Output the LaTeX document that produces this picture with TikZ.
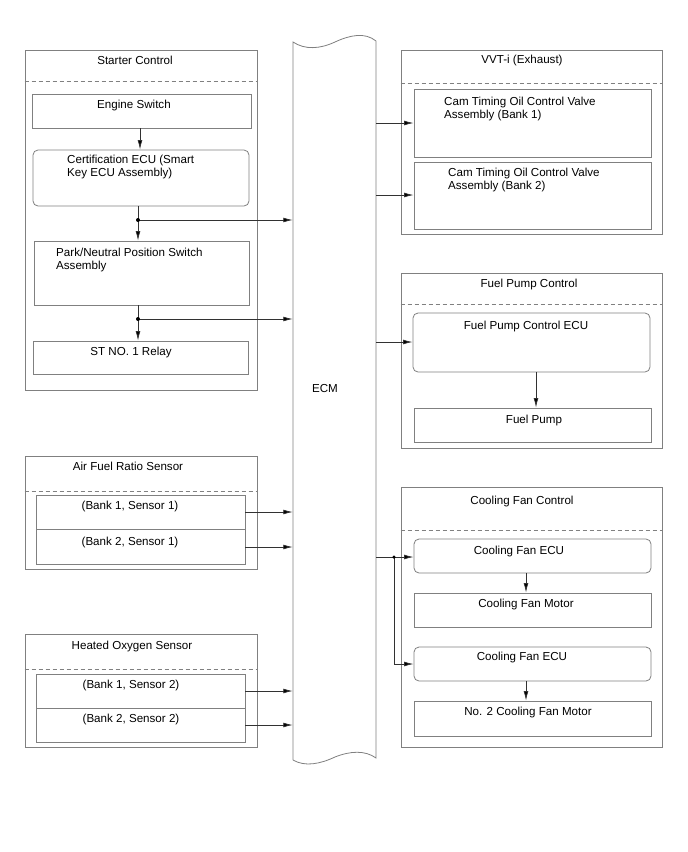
\documentclass[tikz,border=0pt]{standalone}
\usepackage{fontspec}
\setmainfont{Liberation Sans}
\usetikzlibrary{fit,arrows.meta}
\definecolor{linegray}{RGB}{128,128,128}
\definecolor{conngray}{RGB}{50,50,50}
\tikzset{
  boxshape/.style={draw=linegray, line width=0.8pt, inner sep=0pt, rectangle},
  rboxshape/.style={boxshape, rounded corners=5pt},
  dashsep/.style={draw=linegray, line width=0.8pt, dash pattern=on 4pt off 3pt},
  conn/.style={draw=conngray, line width=0.75pt, -{Latex[length=9.5pt,width=4.8pt,fill=black]}},
  lbl/.style={inner sep=0pt, anchor=base, font=\fontsize{11.6}{13.5}\selectfont},
  lbll/.style={inner sep=0pt, anchor=base west, font=\fontsize{11.6}{13.5}\selectfont},
  jdot/.style={circle, fill=black, inner sep=0pt, minimum size=4pt}
}
\begin{document}
\begin{tikzpicture}[x=1pt,y=-1pt]
\fill[white] (0,0) rectangle (688,852);
\useasboundingbox (0,0) rectangle (688,852);

% ECM
\draw[linegray, line width=0.8pt] (293,760) -- (293,42)
  .. controls (305,50) and (320,49) .. (335,42)
  .. controls (350,35) and (365,32) .. (376,41)
  -- (376,758)
  .. controls (365,750) and (350,751) .. (335,757)
  .. controls (320,764) and (305,767) .. (293,760);
\node[inner sep=0pt, minimum width=83pt, minimum height=700pt] (ecm) at (334.5,400) {};
\node[lbl] (ecmt) at (325,392) {ECM};

% Starter Control
\node[boxshape, fit={(25,50) (257,390)}] (sc) {};
\draw[dashsep] (sc.west |- 0,81) -- (sc.east |- 0,81);
\node[lbl] (sct) at (135,64) {Starter Control};
\node[boxshape, fit={(32,94) (251,128)}] (es) {};
\node[lbl] (est) at (134,108) {Engine Switch};
\node[rboxshape, fit={(33,150) (249,206)}] (cert) {};
\node[lbll] (certa) at (67,163) {Certification ECU (Smart};
\node[lbll] (certb) at (67,176.5) {Key ECU Assembly)};
\node[boxshape, fit={(34,241) (249,305)}] (pn) {};
\node[lbll] (pna) at (56,256) {Park/Neutral Position Switch};
\node[lbll] (pnb) at (56,269.5) {Assembly};
\node[boxshape, fit={(33,341) (248,374)}] (st) {};
\node[lbl] (stt) at (131,355) {ST NO. 1 Relay};

\coordinate (c1) at (140,0);
\draw[conn] (es.south -| c1) -- (cert.north -| c1);
\coordinate (d1) at (138,220);
\draw[conn] (cert.south -| d1) -- (pn.north -| d1);
\draw[conn] (d1) -- (d1 -| ecm.west);
\node[jdot] (j1) at (d1) {};
\coordinate (d2) at (138,319);
\draw[conn] (pn.south -| d2) -- (st.north -| d2);
\draw[conn] (d2) -- (d2 -| ecm.west);
\node[jdot] (j2) at (d2) {};

% Air Fuel Ratio Sensor
\node[boxshape, fit={(25,456) (257,569)}] (afr) {};
\draw[dashsep] (afr.west |- 0,491) -- (afr.east |- 0,491);
\node[lbl] (afrt) at (128,470) {Air Fuel Ratio Sensor};
\node[boxshape, fit={(36,495) (245,529)}] (afra) {};
\node[boxshape, fit={(36,529) (245,564)}] (afrb) {};
\node[lbl] (afrat) at (130,509) {(Bank 1, Sensor 1)};
\node[lbl] (afrbt) at (130,545) {(Bank 2, Sensor 1)};
\coordinate (y1) at (0,512);
\coordinate (y2) at (0,547);
\draw[conn] (afra.east |- y1) -- (ecm.west |- y1);
\draw[conn] (afrb.east |- y2) -- (ecm.west |- y2);

% Heated Oxygen Sensor
\node[boxshape, fit={(25,634) (257,747)}] (hos) {};
\draw[dashsep] (hos.west |- 0,669) -- (hos.east |- 0,669);
\node[lbl] (host) at (132,649) {Heated Oxygen Sensor};
\node[boxshape, fit={(36,674) (245,708)}] (hosa) {};
\node[boxshape, fit={(36,708) (245,742)}] (hosb) {};
\node[lbl] (hosat) at (131,688) {(Bank 1, Sensor 2)};
\node[lbl] (hosbt) at (131,722) {(Bank 2, Sensor 2)};
\coordinate (y3) at (0,691);
\coordinate (y4) at (0,725);
\draw[conn] (hosa.east |- y3) -- (ecm.west |- y3);
\draw[conn] (hosb.east |- y4) -- (ecm.west |- y4);

% VVT-i
\node[boxshape, fit={(401,50) (662,234)}] (vvt) {};
\draw[dashsep] (vvt.west |- 0,83) -- (vvt.east |- 0,83);
\node[lbl] (vvtt) at (522,63) {VVT-i (Exhaust)};
\node[boxshape, fit={(414,89) (651,157)}] (cam1) {};
\node[lbll] (cam1a) at (444,105) {Cam Timing Oil Control Valve};
\node[lbll] (cam1b) at (444,118.5) {Assembly (Bank 1)};
\node[boxshape, fit={(414,162) (651,229)}] (cam2) {};
\node[lbll] (cam2a) at (448,176) {Cam Timing Oil Control Valve};
\node[lbll] (cam2b) at (448,189.5) {Assembly (Bank 2)};
\coordinate (y5) at (0,123);
\coordinate (y6) at (0,195);
\draw[conn] (ecm.east |- y5) -- (cam1.west |- y5);
\draw[conn] (ecm.east |- y6) -- (cam2.west |- y6);

% Fuel Pump Control
\node[boxshape, fit={(401,273) (662,448)}] (fpc) {};
\draw[dashsep] (fpc.west |- 0,304) -- (fpc.east |- 0,304);
\node[lbl] (fpct) at (529,287) {Fuel Pump Control};
\node[rboxshape, fit={(413,313) (650,372)}] (fpe) {};
\node[lbl] (fpet) at (526,329) {Fuel Pump Control ECU};
\node[boxshape, fit={(414,408) (651,442)}] (fp) {};
\node[lbl] (fpt) at (534,423) {Fuel Pump};
\coordinate (y7) at (0,342);
\draw[conn] (ecm.east |- y7) -- (fpe.west |- y7);
\coordinate (c2) at (536,0);
\draw[conn] (fpe.south -| c2) -- (fp.north -| c2);

% Cooling Fan Control
\node[boxshape, fit={(401,487) (662,747)}] (cfc) {};
\draw[dashsep] (cfc.west |- 0,530) -- (cfc.east |- 0,530);
\node[lbl] (cfct) at (522,504) {Cooling Fan Control};
\node[rboxshape, fit={(414,539) (651,573)}] (cfe1) {};
\node[lbl] (cfe1t) at (519,554) {Cooling Fan ECU};
\node[boxshape, fit={(414,593) (651,627)}] (cfm1) {};
\node[lbl] (cfm1t) at (526,607) {Cooling Fan Motor};
\node[rboxshape, fit={(414,647) (651,681)}] (cfe2) {};
\node[lbl] (cfe2t) at (522,660) {Cooling Fan ECU};
\node[boxshape, fit={(414,701) (651,736)}] (cfm2) {};
\node[lbl] (cfm2t) at (528,715) {No. 2 Cooling Fan Motor};
\coordinate (d3) at (394,557);
\coordinate (d4) at (394,664);
\draw[conn] (ecm.east |- d3) -- (cfe1.west |- d3);
\draw[conn] (d3) -- (d4) -- (cfe2.west |- d4);
\node[jdot, minimum size=3.5pt] (j3) at (d3) {};
\coordinate (c3) at (526,0);
\draw[conn] (cfe1.south -| c3) -- (cfm1.north -| c3);
\draw[conn] (cfe2.south -| c3) -- (cfm2.north -| c3);
\end{tikzpicture}
\end{document}
